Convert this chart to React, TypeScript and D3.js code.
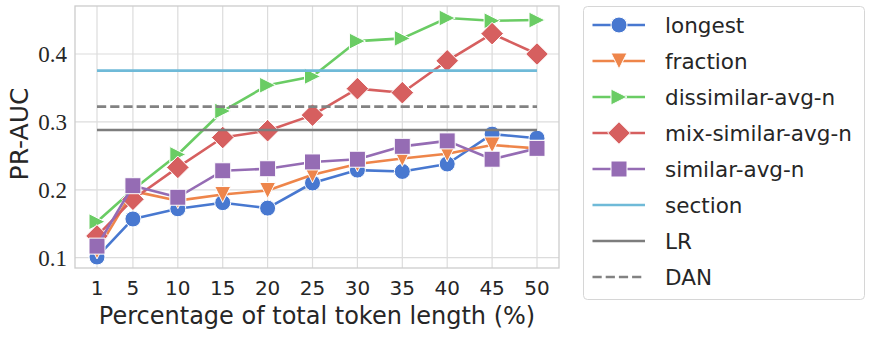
import * as d3 from "d3";

const percents = [1, 5, 10, 15, 20, 25, 30, 35, 40, 45, 50];
const longest = [0.101, 0.157, 0.172, 0.181, 0.173, 0.21, 0.229, 0.227, 0.238, 0.282, 0.276];
const fraction = [0.11, 0.198, 0.184, 0.193, 0.199, 0.222, 0.238, 0.246, 0.253, 0.266, 0.261];
const dissimilar = [0.153, 0.2, 0.252, 0.316, 0.354, 0.367, 0.419, 0.423, 0.453, 0.449, 0.45];
const mixSimilar = [0.132, 0.186, 0.233, 0.277, 0.287, 0.31, 0.349, 0.343, 0.39, 0.43, 0.4];
const similar = [0.117, 0.206, 0.189, 0.228, 0.231, 0.241, 0.245, 0.264, 0.272, 0.245, 0.261];
const sectionScore = 0.3755;
const lrScore = 0.288;
const danScore = 0.3225;
const yTicks = [0.1, 0.2, 0.3, 0.4];

const series = [
  { name: "longest", values: longest, color: "#4878d0", marker: "circle" },
  { name: "fraction", values: fraction, color: "#ee854a", marker: "tridown" },
  { name: "dissimilar-avg-n", values: dissimilar, color: "#6acc64", marker: "triright" },
  { name: "mix-similar-avg-n", values: mixSimilar, color: "#d65f5f", marker: "diamond" },
  { name: "similar-avg-n", values: similar, color: "#956cb4", marker: "square" },
];
const refLines = [
  { name: "section", value: sectionScore, color: "#6fbad8", dash: "" },
  { name: "LR", value: lrScore, color: "#7d7d7d", dash: "" },
  { name: "DAN", value: danScore, color: "#828282", dash: "9.2,4" },
];

const W = 872, H = 338;
const left = 75, right = 559, top = 6, bottom = 268;
const sans = "'DejaVu Sans', sans-serif";
const ms = 16;

// matplotlib-style marker outlines, centred on 0,0
function markerPath(kind: string, s: number) {
  const h = s / 2;
  switch (kind) {
    case "circle":
      return `M${h},0A${h},${h} 0 1,1 ${-h},0A${h},${h} 0 1,1 ${h},0Z`;
    case "tridown":
      return `M0,${h}L${-h},${-h}L${h},${-h}Z`;
    case "triright":
      return `M${h},0L${-h},${-h}L${-h},${h}Z`;
    case "diamond": {
      const d = h * Math.SQRT2;
      return `M0,${-d}L${d},0L0,${d}L${-d},0Z`;
    }
    default:
      return `M${-h},${-h}H${h}V${h}H${-h}Z`;
  }
}

export default function App() {
  const x = d3.scaleLinear().domain([-1.45, 52.45]).range([left, right]);
  const y = d3.scaleLinear().domain([0.0848, 0.4707]).range([bottom, top]);
  const line = d3.line<number>().x((v, i) => x(percents[i])).y((v) => y(v));
  const x0 = x(percents[0]);
  const x1 = x(percents[percents.length - 1]);

  return (
    <svg width={W} height={H} style={{ position: "absolute", left: 0, top: 0, background: "#fff" }}>
      <rect x={0} y={0} width={W} height={H} fill="#fff" />
      {/* grid */}
      {percents.map((p) => (
        <line key={"gx" + p} x1={x(p)} x2={x(p)} y1={top} y2={bottom} stroke="#dcdcdc" strokeWidth={1.2} />
      ))}
      {yTicks.map((t) => (
        <line key={"gy" + t} x1={left} x2={right} y1={y(t)} y2={y(t)} stroke="#dcdcdc" strokeWidth={1.2} />
      ))}
      <rect x={left} y={top} width={right - left} height={bottom - top} fill="none" stroke="#cccccc" strokeWidth={1.3} />

      {/* series */}
      {series.map((s) => (
        <g key={s.name}>
          <path d={line(s.values) || ""} fill="none" stroke={s.color} strokeWidth={2.6} strokeLinejoin="round" />
          {s.values.map((v, i) => (
            <path
              key={i}
              d={markerPath(s.marker, ms)}
              transform={`translate(${x(percents[i])},${y(v)})`}
              fill={s.color}
              stroke="#fff"
              strokeWidth={1}
            />
          ))}
        </g>
      ))}

      {refLines.map((r) => (
        <line key={r.name} x1={x0} x2={x1} y1={y(r.value)} y2={y(r.value)} stroke={r.color} strokeWidth={2.6} strokeDasharray={r.dash} />
      ))}

      {/* axes text */}
      {percents.map((p) => (
        <text key={"tx" + p} x={x(p)} y={295} textAnchor="middle" fontFamily={sans} fontSize={20} fill="#262626">
          {p}
        </text>
      ))}
      {yTicks.map((t) => (
        <text key={"ty" + t} x={67} y={y(t)} dy="0.34em" textAnchor="end" fontFamily="'Liberation Serif', serif" fontSize={23} fill="#262626">
          {t.toFixed(1)}
        </text>
      ))}
      <text x={(left + right) / 2} y={324} textAnchor="middle" fontFamily={sans} fontSize={24} fill="#262626">
        Percentage of total token length (%)
      </text>
      <text transform={`translate(28,134) rotate(-90)`} textAnchor="middle" fontFamily={sans} fontSize={25} fill="#262626">
        PR-AUC
      </text>

      {/* legend */}
      <rect x={583.5} y={6.5} width={281} height={293} rx={4} fill="#fff" stroke="#d6d6d6" strokeWidth={1} />
      {[...series.map((s) => ({ ...s, dash: "" })), ...refLines.map((r) => ({ ...r, marker: "", values: [] as number[] }))].map((e, i) => {
        const cy = 25 + i * 36;
        return (
          <g key={"lg" + e.name}>
            <line x1={592.5} x2={645} y1={cy} y2={cy} stroke={e.color} strokeWidth={2.6} strokeDasharray={e.dash} />
            {e.marker && (
              <path d={markerPath(e.marker, ms)} transform={`translate(619,${cy})`} fill={e.color} stroke="#fff" strokeWidth={1} />
            )}
            <text x={665} y={cy} dy="0.36em" fontFamily={sans} fontSize={21.5} fill="#262626">
              {e.name}
            </text>
          </g>
        );
      })}
    </svg>
  );
}
